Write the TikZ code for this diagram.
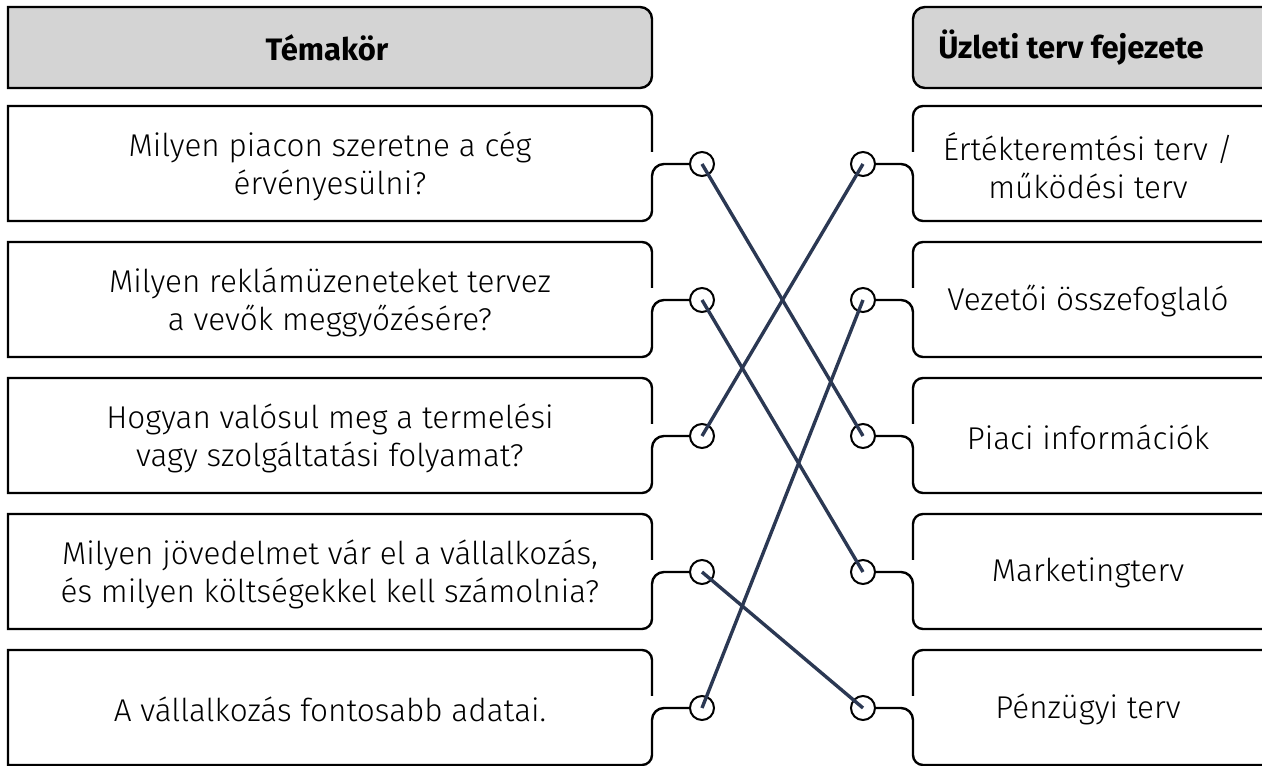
\documentclass[tikz,border=0pt]{standalone}
\usepackage{fontspec}
\setmainfont{Fira Sans Light}[BoldFont={Fira Sans Bold}]
\definecolor{navy}{HTML}{2B3853}
\definecolor{hdr}{HTML}{D4D4D4}
\begin{document}
\begin{tikzpicture}[x=1pt,y=1pt,
  outline/.style={draw=black, line width=2.4pt},
  port/.style={circle, draw=black, line width=2pt, fill=white, minimum size=24pt, inner sep=0pt},
  link/.style={draw=navy, line width=3.4pt},
  ltext/.style={align=center, font=\fontsize{31.5}{38}\selectfont},
  htext/.style={font=\fontsize{31}{36}\selectfont\bfseries}]
\useasboundingbox (0,0) rectangle (1262,766);
\clip (0,0) rectangle (1262,766);
% headers
\draw[outline, fill=hdr] (8,759) -- (640,759) arc[start angle=90,end angle=0,radius=12] -- (652,690) arc[start angle=0,end angle=-90,radius=12] -- (8,678) -- cycle;
\draw[outline, fill=hdr] (1275,759) -- (925,759) arc[start angle=90,end angle=180,radius=12] -- (913,690) arc[start angle=180,end angle=270,radius=12] -- (1275,678);
\node[htext] (hL) at (327,718) {Témakör};
\node[htext] (hR) at (1071,718) {Üzleti terv fejezete};
% boxes
\foreach \i in {0,...,4}{
  \pgfmathsetmacro\T{766-106-136*\i}
  \pgfmathsetmacro\B{\T-115}
  \pgfmathsetmacro\C{\T-58}
  \node[port] (pL\i) at (702,\C) {};
  \node[port] (pR\i) at (863,\C) {};
  \draw[outline] (652,\C+12) -- (652,\T-10) arc[start angle=0,end angle=90,radius=10] -- (8,\T) -- (8,\B) -- (642,\B) arc[start angle=270,end angle=360,radius=10] -- (652,\C-12) arc[start angle=180,end angle=90,radius=12] -- (pL\i.west);
  \draw[outline] (913,\C+12) -- (913,\T-10) arc[start angle=180,end angle=90,radius=10] -- (1275,\T);
  \draw[outline] (1275,\B) -- (923,\B) arc[start angle=270,end angle=180,radius=10] -- (913,\C-12) arc[start angle=0,end angle=90,radius=12] -- (pR\i.east);
}
% texts
\node[ltext] (l0) at (330,600) {Milyen piacon szeretne a cég\\érvényesülni?};
\node[ltext] (l1) at (330,464) {Milyen reklámüzeneteket tervez\\a vevők meggyőzésére?};
\node[ltext] (l2) at (330,328) {Hogyan valósul meg a termelési\\vagy szolgáltatási folyamat?};
\node[ltext] (l3) at (330,192) {Milyen jövedelmet vár el a vállalkozás,\\és milyen költségekkel kell számolnia?};
\node[ltext] (l4) at (330,57) {A vállalkozás fontosabb adatai.};
\node[ltext] (r0) at (1088,600) {Értékteremtési terv /\\működési terv};
\node[ltext] (r1) at (1088,465) {Vezetői összefoglaló};
\node[ltext] (r2) at (1088,329) {Piaci információk};
\node[ltext] (r3) at (1088,193) {Marketingterv};
\node[ltext] (r4) at (1088,57) {Pénzügyi terv};
% links
\draw[link] (pL0.center) -- (pR2.center);
\draw[link] (pL1.center) -- (pR3.center);
\draw[link] (pL2.center) -- (pR0.center);
\draw[link] (pL3.center) -- (pR4.center);
\draw[link] (pL4.center) -- (pR1.center);
\end{tikzpicture}
\end{document}
